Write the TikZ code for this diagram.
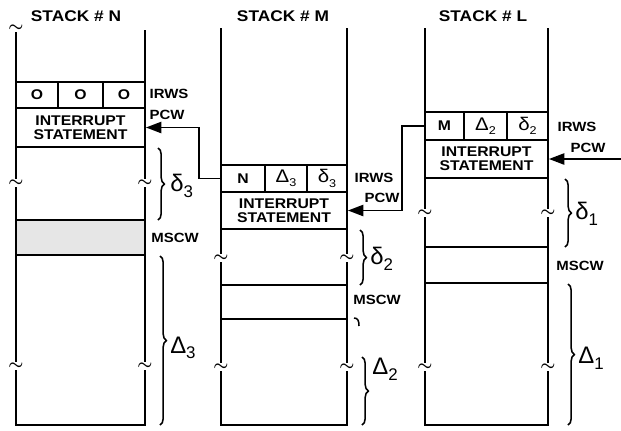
\documentclass[tikz,border=0pt]{standalone}
\usepackage{fontspec}
\setmainfont{Liberation Sans}
\newfontfamily\lblfont[FakeStretch=1.12]{Liberation Sans}
\usetikzlibrary{arrows.meta,decorations.pathreplacing}
\definecolor{bandgrey}{HTML}{E6E6E6}
\newcommand{\lowsub}[2][8]{\raisebox{-0.45ex}{\fontsize{#1}{#1}\selectfont #2}}
\newcommand{\wallbreak}[3]{% {name}{x}{y}
  \node[brk] (#1) at (#2,#3) {$\sim$};
}

\begin{document}
\begin{tikzpicture}[x=0.025cm,y=-0.025cm,
  wall/.style={line width=1.4pt},
  cell/.style={draw,line width=1.3pt,inner sep=0pt,font=\lblfont\bfseries\fontsize{10}{10}\selectfont},
  title/.style={font=\lblfont\bfseries\fontsize{11}{11}\selectfont},
  tag/.style={font=\lblfont\bfseries\fontsize{9.5}{10}\selectfont},
  brk/.style={inner sep=0pt,font=\fontsize{12}{12}\selectfont\boldmath},
  brc/.style={line width=1.1pt,decorate,decoration={brace,amplitude=0.16cm}},
  size/.style={anchor=west,inner sep=0pt,font=\fontsize{17}{17}\selectfont},
  link/.style={line width=1.3pt,-{Triangle[length=11pt,width=8pt]}}]
  \useasboundingbox (0,0) rectangle (621,430);

  % Stack N
  \node[title] (ttlN) at (76,16) {STACK \# N};
  \fill[bandgrey] (16,220) rectangle (145,255);
  \draw[wall] (16,32) -- (16,179);
  \draw[wall] (16,187) -- (16,362);
  \draw[wall] (16,370) -- (16,425) -- (145,425) -- (145,370);
  \draw[wall] (145,30) -- (145,179);
  \draw[wall] (145,187) -- (145,362);
  \draw[wall] (16,220) -- (145,220);
  \draw[wall] (16,255) -- (145,255);
  \wallbreak{bNa}{16}{28}
  \wallbreak{bNb}{16}{183}
  \wallbreak{bNc}{145}{183}
  \wallbreak{bNd}{16}{366}
  \wallbreak{bNe}{145}{366}
  \node[cell,minimum width=1.05cm,minimum height=0.65cm] (n1) at (37,95) {O};
  \node[cell,minimum width=1.125cm,minimum height=0.65cm] (n2) at (80.5,95) {O};
  \node[cell,minimum width=1.05cm,minimum height=0.65cm] (n3) at (124,95) {O};
  \node[cell,minimum width=3.225cm,minimum height=0.975cm,align=center] (nint) at (80.5,127.5) {INTERRUPT\\STATEMENT};
  \node[tag] (nirws) at (169,94) {IRWS};
  \node[tag] (npcw) at (167,115) {PCW};
  \node[tag] (nmscw) at (175,238) {MSCW};
  \draw[brc] (158,148) -- (158,220);
  \node[size] (ndel) at (170,186) {δ\lowsub[12]{3}};
  \draw[brc] (160,256) -- (160,425);
  \node[size] (nDel) at (170,348) {Δ\lowsub[12]{3}};

  % Stack M
  \node[title] (ttlM) at (283,16) {STACK \# M};
  \draw[wall] (221,28) -- (221,254);
  \draw[wall] (221,262) -- (221,363);
  \draw[wall] (221,371) -- (221,425) -- (347,425) -- (347,371);
  \draw[wall] (347,28) -- (347,254);
  \draw[wall] (347,262) -- (347,363);
  \draw[wall] (221,285) -- (347,285);
  \draw[wall] (221,319) -- (347,319);
  \wallbreak{bMa}{221}{258}
  \wallbreak{bMb}{347}{258}
  \wallbreak{bMc}{221}{367}
  \wallbreak{bMd}{347}{367}
  \node[cell,minimum width=1.1cm,minimum height=0.67cm] (m1) at (243,178.5) {N};
  \node[cell,minimum width=1.05cm,minimum height=0.67cm] (m2) at (286,178.5) {\mdseries\fontsize{13}{13}\selectfont Δ\lowsub{3}};
  \node[cell,minimum width=1.0cm,minimum height=0.67cm] (m3) at (327,178.5) {\mdseries\fontsize{13}{13}\selectfont δ\lowsub{3}};
  \node[cell,minimum width=3.15cm,minimum height=0.925cm,align=center] (mint) at (284,210.5) {INTERRUPT\\STATEMENT};
  \node[tag] (mirws) at (374,178) {IRWS};
  \node[tag] (mpcw) at (382,198) {PCW};
  \node[tag] (mmscw) at (377,300) {MSCW};
  \draw[brc] (360,230) -- (360,285);
  \node[size] (mdel) at (370,259) {δ\lowsub[12]{2}};
  \draw[line width=1.1pt] (354,318) .. controls (358,318) and (359,321) .. (359,326);
  \draw[brc] (362,357) -- (362,425);
  \node[size] (mDel) at (372,369) {Δ\lowsub[12]{2}};

  % Stack L
  \node[title] (ttlL) at (483,16) {STACK \# L};
  \draw[wall] (425,28) -- (425,209);
  \draw[wall] (425,217) -- (425,363);
  \draw[wall] (425,371) -- (425,425) -- (548,425) -- (548,371);
  \draw[wall] (548,28) -- (548,209);
  \draw[wall] (548,217) -- (548,363);
  \draw[wall] (425,247) -- (548,247);
  \draw[wall] (425,283) -- (548,283);
  \wallbreak{bLa}{425}{213}
  \wallbreak{bLb}{548}{213}
  \wallbreak{bLc}{425}{367}
  \wallbreak{bLd}{548}{367}
  \node[cell,minimum width=0.975cm,minimum height=0.7cm] (l1) at (444.5,126) {M};
  \node[cell,minimum width=1.075cm,minimum height=0.7cm] (l2) at (485.5,126) {\mdseries\fontsize{13}{13}\selectfont Δ\lowsub{2}};
  \node[cell,minimum width=1.025cm,minimum height=0.7cm] (l3) at (527.5,126) {\mdseries\fontsize{13}{13}\selectfont δ\lowsub{2}};
  \node[cell,minimum width=3.075cm,minimum height=0.95cm,align=center] (lint) at (486.5,159) {INTERRUPT\\STATEMENT};
  \node[tag] (lirws) at (577,127) {IRWS};
  \node[tag] (lpcw) at (588,148) {PCW};
  \node[tag] (lmscw) at (580,266) {MSCW};
  \draw[brc] (565,179) -- (565,247);
  \node[size] (ldel) at (575,214) {δ\lowsub[12]{1}};
  \draw[brc] (568,284) -- (568,425);
  \node[size] (lDel) at (578,358) {Δ\lowsub[12]{1}};

  % PCW links
  \coordinate (pcwin) at (621,159);
  \draw[link] (m1.west) -- ++(-21,0) |- (nint.east);
  \draw[link] (l1.west) -- ++(-22,0) |- (mint.east);
  \draw[link] (pcwin) -- (lint.east);
\end{tikzpicture}
\end{document}
